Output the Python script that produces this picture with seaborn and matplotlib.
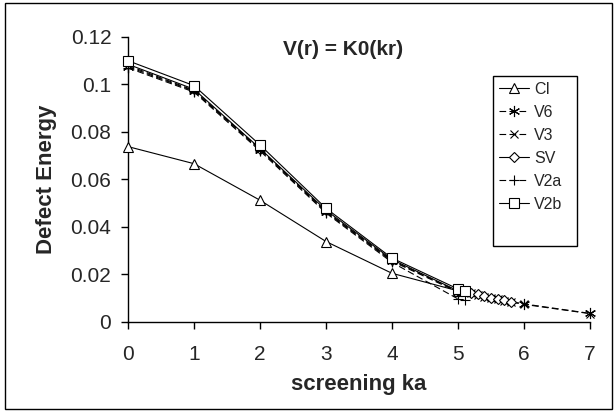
import numpy as np
import pandas as pd
import seaborn as sns
import matplotlib.pyplot as plt
from matplotlib.patches import Rectangle

# ---- data ----
x_ci = [0, 1, 2, 3, 4, 5]
y_ci = [0.0738, 0.0666, 0.0512, 0.0338, 0.0204, 0.0130]

x_v6 = [0, 1, 2, 3, 4, 5, 6, 7]
y_v6 = [0.1075, 0.0972, 0.0725, 0.0462, 0.0255, 0.0125, 0.0075, 0.0035]

x_v3 = [0, 1, 2, 3, 4, 5, 5.2, 5.3, 5.4, 5.5, 5.6, 5.7, 5.8, 6, 7]
y_v3 = [0.1080, 0.0975, 0.0728, 0.0465, 0.0258, 0.0128, 0.0120, 0.0113,
        0.0106, 0.0100, 0.0094, 0.0088, 0.0083, 0.0073, 0.0034]

x_sv = [0, 1, 2, 3, 4, 5, 5.2, 5.3, 5.4, 5.5, 5.6, 5.7, 5.8]
y_sv = [0.1085, 0.0980, 0.0730, 0.0470, 0.0262, 0.0130, 0.0122, 0.0115,
        0.0108, 0.0102, 0.0096, 0.0090, 0.0085]

x_v2a = [0, 1, 2, 3, 4, 5, 5.1]
y_v2a = [0.1070, 0.0968, 0.0720, 0.0458, 0.0250, 0.0096, 0.0090]

x_v2b = [0, 1, 2, 3, 4, 5, 5.1]
y_v2b = [0.1100, 0.0995, 0.0745, 0.0478, 0.0268, 0.0138, 0.0128]

series = [
    ('CI', x_ci, y_ci, '^', '-', 7),
    ('V6', x_v6, y_v6, (6, 2, 0), (0, (6, 3)), 8),
    ('V3', x_v3, y_v3, 'x', (0, (6, 3)), 6),
    ('SV', x_sv, y_sv, 'D', '-', 5.5),
    ('V2a', x_v2a, y_v2a, '+', (0, (6, 3)), 7),
    ('V2b', x_v2b, y_v2b, 's', '-', 7),
]

sns.set_style('white')
plt.rcParams['font.family'] = ['Liberation Sans', 'DejaVu Sans']

W, H = 614, 411
fig = plt.figure(figsize=(W / 100, H / 100), dpi=100)
ax = fig.add_axes([128 / W, 1 - 321.7 / H, (590 - 128) / W, (321.7 - 37) / H])

for i, (name, xs, ys, mk, ls, ms) in enumerate(series):
    df = pd.DataFrame({'x': xs, 'y': ys})
    sns.lineplot(data=df, x='x', y='y', ax=ax, color='black', lw=0.8,
                 linestyle=ls, marker=mk, markersize=ms, mfc='white',
                 mec='black', mew=0.8, label=name, zorder=3 + i,
                 estimator=None, sort=False, clip_on=False)

ax.set_xlim(0, 7)
ax.set_ylim(0, 0.12)
ax.set_xticks(range(0, 8))
ax.set_yticks([0, 0.02, 0.04, 0.06, 0.08, 0.1, 0.12])
ax.set_yticklabels(['0', '0.02', '0.04', '0.06', '0.08', '0.1', '0.12'])
ax.tick_params(axis='both', which='major', labelsize=15, length=5,
               width=1, direction='out', color='black',
               bottom=True, left=True)
ax.tick_params(axis='x', pad=12)
ax.tick_params(axis='y', pad=7)
for s in ['top', 'right']:
    ax.spines[s].set_visible(False)
for s in ['left', 'bottom']:
    ax.spines[s].set_color('black')
    ax.spines[s].set_linewidth(1)

ax.set_xlabel('screening ka', fontsize=16, fontweight='bold', labelpad=7)
ax.set_ylabel('Defect Energy', fontsize=16, fontweight='bold', labelpad=10)
ax.text((283 - 128) / 66, 0.1146, 'V(r) = K0(kr)', fontsize=15,
        fontweight='bold', ha='left', va='center')

leg = ax.legend(loc='upper left', bbox_to_anchor=(499 / W, 1 - 82 / H),
                bbox_transform=fig.transFigure, fontsize=11.5, frameon=False,
                handlelength=1.9, labelspacing=0.5, borderpad=0,
                handletextpad=0.3, borderaxespad=0)

# legend box (taller than its entries, as in the reference)
fig.patches.append(Rectangle((493 / W, 1 - 246 / H), 84 / W, 170 / H,
                             transform=fig.transFigure, fill=False,
                             edgecolor='black', lw=1, zorder=10))
# outer chart border
fig.patches.append(Rectangle((5 / W, 2 / H), 607 / W, 406 / H,
                             transform=fig.transFigure, fill=False,
                             edgecolor='black', lw=1))

plt.savefig('out.png', dpi=100)
